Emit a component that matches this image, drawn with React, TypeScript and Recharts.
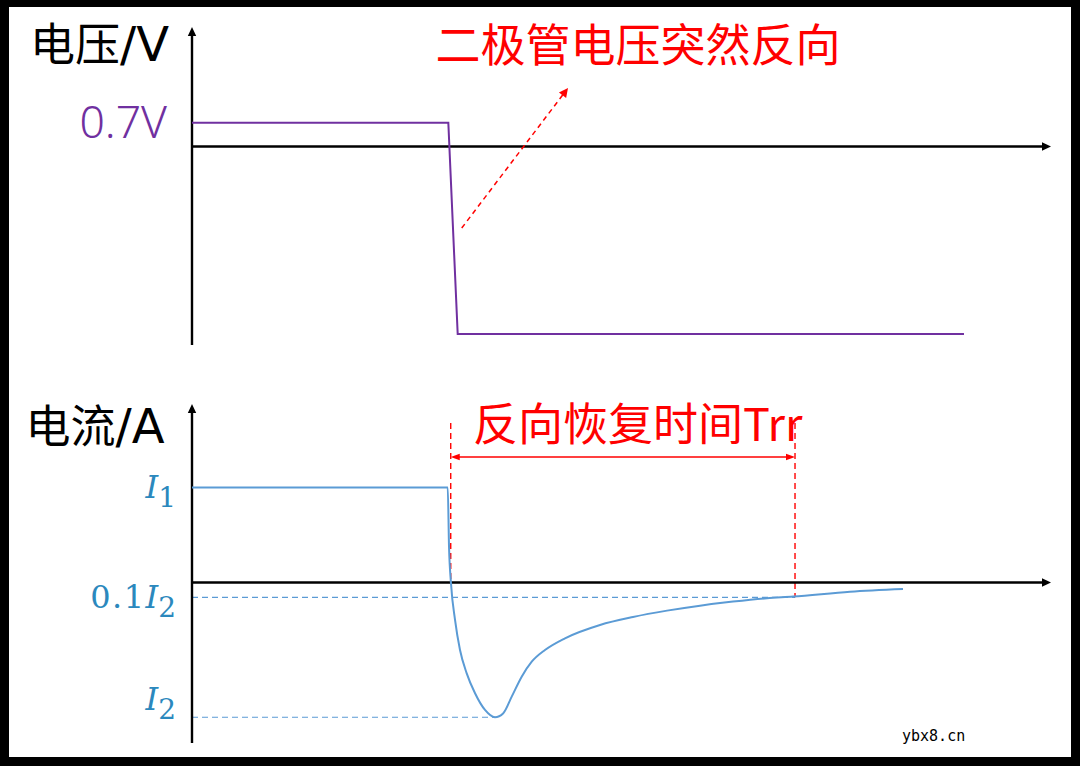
import React from 'react';
import { LineChart, Line, XAxis, YAxis, ReferenceLine } from 'recharts';

// ---- shared time axis (arbitrary units) ----
const timeDomain = [0, 100];

// ---- voltage panel ----
const voltageTime = [0, 29.84, 30.93, 89.87];
const voltageValues = [0.7, 0.7, -5.52, -5.52];
const voltageDomain = [-5.84, 3.515];
const voltageTicks = [0.7];
const voltageTickLabels = ['0.7V'];
const reverseArrowFrom = { t: 31.4, v: -2.4 };
const reverseArrowTo = { t: 43.77, v: 1.72 };

// ---- current panel ----
const currentTime = [0, 29.77, 29.92, 30.15, 30.62, 31.2, 31.98, 32.95, 34.11, 35.27, 36.24, 37.22, 38.38, 39.55, 41.09, 43.42, 47.5, 51.34, 55.3, 59.14, 62.98, 66.94, 69.97, 76.6, 82.77];
const currentValues = [7.05, 7.05, 2.66, -0.06, -2.78, -5.01, -6.74, -8.22, -9.46, -10, -9.7, -8.47, -6.99, -5.88, -5.01, -4.14, -3.15, -2.56, -2.09, -1.72, -1.42, -1.17, -1.05, -0.68, -0.48];
const currentDomain = [-11.91, 13.24];
const currentTicks = [7.05, -1.1, -10];
const currentTickPrefix = ['', '0.1', ''];
const currentTickSub = ['1', '2', '2'];
const peakReverseTime = 35.27;
const trrStart = 30.12;
const trrEnd = 70.2;
const trrMarkerTop = 11.83;
const trrArrowLevel = 9.31;

const voltageData = voltageTime.map((t, i) => ({ t, v: voltageValues[i] }));
const currentData = currentTime.map((t, i) => ({ t, i: currentValues[i] }));

const PURPLE = '#7030A0';
const BLUE = '#5B9BD5';
const LABEL_BLUE = '#2B88BD';
const RED = '#FF0000';

function tri(tx: number, ty: number, ux: number, uy: number, len: number, half: number) {
  const bx = tx + ux * len;
  const by = ty + uy * len;
  const px = -uy * half;
  const py = ux * half;
  return `${tx},${ty} ${bx + px},${by + py} ${bx - px},${by - py}`;
}

function arrowShape(start: boolean, end: boolean, len: number, half: number) {
  return (p: any) => {
    const { x1, y1, x2, y2, stroke, strokeWidth, strokeDasharray } = p;
    const ang = Math.atan2(y2 - y1, x2 - x1);
    const c = Math.cos(ang);
    const s = Math.sin(ang);
    const sx = start ? x1 + c * len * 0.8 : x1;
    const sy = start ? y1 + s * len * 0.8 : y1;
    const ex = end ? x2 - c * len * 0.8 : x2;
    const ey = end ? y2 - s * len * 0.8 : y2;
    return (
      <g>
        <line x1={sx} y1={sy} x2={ex} y2={ey} stroke={stroke} strokeWidth={strokeWidth} strokeDasharray={strokeDasharray} fill="none" />
        {end && <polygon points={tri(x2, y2, -c, -s, len, half)} fill={stroke} stroke="none" />}
        {start && <polygon points={tri(x1, y1, c, s, len, half)} fill={stroke} stroke="none" />}
      </g>
    );
  };
}

const axisArrow = arrowShape(false, true, 9, 4.2);
const plainLine = arrowShape(false, false, 0, 0);
const dashedArrow = arrowShape(false, true, 9, 4.5);
const doubleArrow = arrowShape(true, true, 9, 3.2);

const VoltageTick = (props: any) => {
  const { x, y, payload } = props;
  const idx = voltageTicks.indexOf(payload.value);
  return (
    <text x={x - 25} y={y + 15.5} textAnchor="end" fill={PURPLE} fontFamily="'Noto Sans'" fontWeight={300} fontSize={44.5}>
      {voltageTickLabels[idx]}
    </text>
  );
};

const CurrentTick = (props: any) => {
  const { x, y, payload } = props;
  const idx = currentTicks.indexOf(payload.value);
  const shift = idx === 2 ? -18 : 0;
  return (
    <text x={x - 16} y={y + shift + 11} textAnchor="end" fill={LABEL_BLUE} fontFamily="'DejaVu Serif'" fontSize={32}>
      {currentTickPrefix[idx] ? <tspan letterSpacing={1.5}>{currentTickPrefix[idx]}</tspan> : null}
      <tspan fontStyle="italic">I</tspan>
      <tspan fontSize={28} dy={9}>{currentTickSub[idx]}</tspan>
    </text>
  );
};

export default function App() {
  return (
    <div style={{ position: 'absolute', left: 0, top: 0, width: 1080, height: 766, background: '#000', overflow: 'hidden' }}>
      <div style={{ position: 'absolute', left: 9, top: 7, width: 1062, height: 750, background: '#fff' }} />

      <div style={{ position: 'absolute', left: 0, top: 0 }}>
        <LineChart width={1080} height={380} data={voltageData} margin={{ top: 27, right: 29, bottom: 35, left: 0 }}>
          <XAxis dataKey="t" type="number" domain={timeDomain} allowDataOverflow hide />
          <YAxis
            type="number"
            domain={voltageDomain}
            allowDataOverflow
            width={192}
            ticks={voltageTicks}
            interval={0}
            axisLine={false}
            tickLine={false}
            tickSize={0}
            tickMargin={0}
            tick={<VoltageTick />}
          />
          <ReferenceLine segment={[{ x: 0, y: 0 }, { x: timeDomain[1], y: 0 }]} stroke="#000" strokeWidth={2.4} ifOverflow="visible" shape={axisArrow} />
          <ReferenceLine segment={[{ x: 0, y: voltageDomain[0] }, { x: 0, y: voltageDomain[1] }]} stroke="#000" strokeWidth={2.4} ifOverflow="visible" shape={axisArrow} />
          <ReferenceLine
            segment={[{ x: reverseArrowFrom.t, y: reverseArrowFrom.v }, { x: reverseArrowTo.t, y: reverseArrowTo.v }]}
            stroke={RED}
            strokeWidth={1.5}
            strokeDasharray="5 4"
            ifOverflow="visible"
            shape={dashedArrow}
          />
          <Line dataKey="v" type="linear" stroke={PURPLE} strokeWidth={2} dot={false} activeDot={false} isAnimationActive={false} />
        </LineChart>
      </div>

      <div style={{ position: 'absolute', left: 0, top: 380 }}>
        <LineChart width={1080} height={386} data={currentData} margin={{ top: 24, right: 29, bottom: 23, left: 0 }}>
          <XAxis dataKey="t" type="number" domain={timeDomain} allowDataOverflow hide />
          <YAxis
            type="number"
            domain={currentDomain}
            allowDataOverflow
            width={192}
            ticks={currentTicks}
            interval={0}
            axisLine={false}
            tickLine={false}
            tickSize={0}
            tickMargin={0}
            tick={<CurrentTick />}
          />
          <ReferenceLine segment={[{ x: 0, y: currentTicks[1] }, { x: trrEnd, y: currentTicks[1] }]} stroke={BLUE} strokeWidth={1.2} strokeDasharray="6 4" ifOverflow="visible" shape={plainLine} />
          <ReferenceLine segment={[{ x: 0, y: currentTicks[2] }, { x: peakReverseTime, y: currentTicks[2] }]} stroke={BLUE} strokeWidth={1.2} strokeDasharray="6 4" ifOverflow="visible" shape={plainLine} />
          <ReferenceLine segment={[{ x: trrStart, y: trrMarkerTop }, { x: trrStart, y: 0 }]} stroke={RED} strokeWidth={1.4} strokeDasharray="6 4" ifOverflow="visible" shape={plainLine} />
          <ReferenceLine segment={[{ x: trrEnd, y: trrMarkerTop }, { x: trrEnd, y: currentTicks[1] }]} stroke={RED} strokeWidth={1.4} strokeDasharray="6 4" ifOverflow="visible" shape={plainLine} />
          <ReferenceLine segment={[{ x: trrStart, y: trrArrowLevel }, { x: trrEnd, y: trrArrowLevel }]} stroke={RED} strokeWidth={1.4} ifOverflow="visible" shape={doubleArrow} />
          <ReferenceLine segment={[{ x: 0, y: 0 }, { x: timeDomain[1], y: 0 }]} stroke="#000" strokeWidth={2.4} ifOverflow="visible" shape={axisArrow} />
          <ReferenceLine segment={[{ x: 0, y: currentDomain[0] }, { x: 0, y: currentDomain[1] }]} stroke="#000" strokeWidth={2.4} ifOverflow="visible" shape={axisArrow} />
          <Line dataKey="i" type="monotone" stroke={BLUE} strokeWidth={2} dot={false} activeDot={false} isAnimationActive={false} />
        </LineChart>
      </div>

      <svg width={1080} height={766} style={{ position: 'absolute', left: 0, top: 0, pointerEvents: 'none' }}>
        <text x={30} y={60.5} fill="#000">
          <tspan fontFamily="'Noto Sans CJK SC'" fontSize={45}>电压</tspan>
          <tspan fontFamily="'DejaVu Sans'" fontSize={48}>/V</tspan>
        </text>
        <text x={25.5} y={442.5} fill="#000">
          <tspan fontFamily="'Noto Sans CJK SC'" fontSize={45}>电流</tspan>
          <tspan fontFamily="'DejaVu Sans'" fontSize={48}>/A</tspan>
        </text>
        <text x={435.5} y={61.5} fill={RED} fontFamily="'Noto Sans CJK SC'" fontSize={45}>二极管电压突然反向</text>
        <text x={473} y={440.5} fill={RED} fontFamily="'Noto Sans CJK SC'" fontSize={45}>反向恢复时间Trr</text>
        <text x={902} y={741} fill="#000" fontFamily="'DejaVu Sans Mono'" fontSize={15}>ybx8.cn</text>
      </svg>
    </div>
  );
}
